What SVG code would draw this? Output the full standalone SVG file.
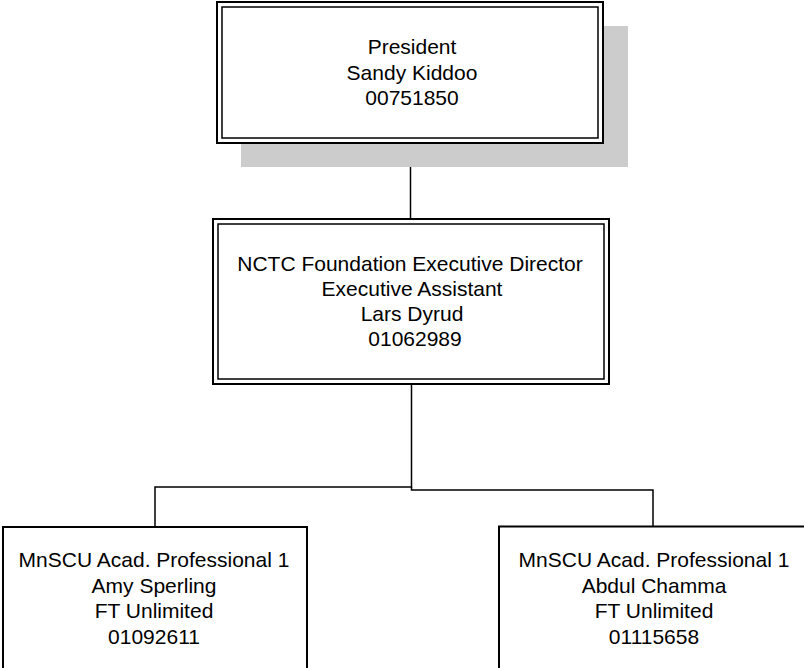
<svg xmlns="http://www.w3.org/2000/svg" width="804" height="668" viewBox="0 0 804 668">
<style>
.txt{font-family:"Liberation Sans",Arial,sans-serif;font-size:21px;fill:#000;text-anchor:middle}
.outer{fill:#fff;stroke:#000;stroke-width:2}
.inner{fill:none;stroke:#000;stroke-width:1.5}
.box{fill:#fff;stroke:#000;stroke-width:2}
.conn{fill:none;stroke:#000;stroke-width:1.5}
</style>
<rect x="0" y="0" width="804" height="668" fill="#fff"/>
<g id="connectors">
<path class="conn" d="M410.5,143 V219"/>
<path class="conn" d="M411.5,385 V487 H155 V527"/>
<path class="conn" d="M411.5,487 V490 H653 V527"/>
</g>
<g id="president">
<rect x="241" y="26" width="387" height="141" fill="#cccccc"/>
<rect class="outer" x="217" y="2" width="386" height="141"/>
<rect class="inner" x="222" y="7" width="376" height="131"/>
<text class="txt" x="412" y="54">President</text>
<text class="txt" x="412" y="80">Sandy Kiddoo</text>
<text class="txt" x="412" y="105">00751850</text>
</g>
<g id="director">
<rect class="outer" x="213" y="219" width="396" height="165"/>
<rect class="inner" x="218" y="224" width="386" height="155"/>
<text class="txt" x="410" y="271">NCTC Foundation Executive Director</text>
<text class="txt" x="412" y="296">Executive Assistant</text>
<text class="txt" x="412" y="321">Lars Dyrud</text>
<text class="txt" x="415" y="346">01062989</text>
</g>
<g id="amy">
<rect class="box" x="3" y="527" width="304" height="150"/>
<text class="txt" x="154" y="567">MnSCU Acad. Professional 1</text>
<text class="txt" x="154" y="592.5">Amy Sperling</text>
<text class="txt" x="154" y="618">FT Unlimited</text>
<text class="txt" x="154" y="643.5">01092611</text>
</g>
<g id="abdul">
<rect class="box" x="499" y="526.5" width="320" height="150"/>
<text class="txt" x="654" y="567">MnSCU Acad. Professional 1</text>
<text class="txt" x="654" y="592.5">Abdul Chamma</text>
<text class="txt" x="654" y="618">FT Unlimited</text>
<text class="txt" x="654" y="643.5">01115658</text>
</g>
</svg>
